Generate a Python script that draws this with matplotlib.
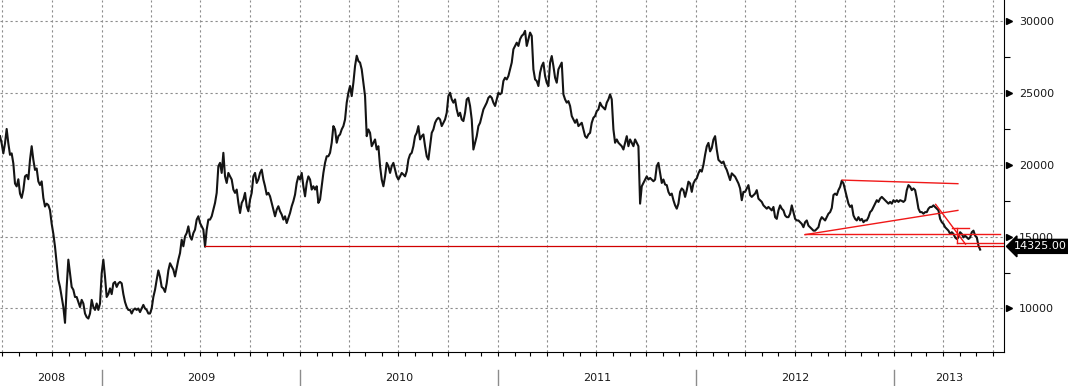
import numpy as np
import pandas as pd
import matplotlib
matplotlib.use("Agg")
import matplotlib.pyplot as plt
import matplotlib.dates as mdates
import matplotlib.transforms as mtrans

# price readings, evenly spaced from late June 2008 to early June 2013
price = [
    22000, 21500, 20800, 21500, 22500, 21500, 20700, 20800, 20100, 18700,
    18500, 19000, 18000, 17700, 18250, 19200, 19300, 19000, 20350, 21300,
    20350, 19650, 19750, 18850, 18600, 18850, 17700, 17100, 17300, 17200,
    16850, 15900, 15200, 14300, 13150, 12000, 11500, 10800, 10100, 9000,
    11500, 13400, 12450, 11500, 11300, 10800, 10800, 10450, 10100, 10600,
    10350, 9650, 9400, 9300, 9650, 10600, 10100, 9900, 10350, 9900,
    10350, 12450, 13400, 12200, 10800, 11000, 11400, 11000, 11750, 11850,
    11500, 11750, 11850, 11750, 11000, 10450, 10100, 9900, 9900, 9650,
    9900, 10000, 9900, 10000, 9750, 10000, 10250, 10000, 9900, 9650,
    9650, 10000, 10800, 11300, 12000, 12650, 12200, 11500, 11400, 11150,
    11750, 12650, 13150,
    # 2009
    12930, 12700, 12230, 12800, 13400, 13860, 14790, 14330, 15020, 15250,
    15720, 15020, 14790, 15250, 15490, 16190, 16420, 15950, 15720, 15490,
    14300, 15490, 16190, 16190, 16420, 16880, 17350, 18050, 19900, 20140,
    19440, 20840, 19200, 18740, 19440, 19200, 18980, 18280, 18050, 18280,
    17350, 16650, 17350, 17580, 18050, 17120, 16770, 17580, 18050, 19200,
    19440, 18740, 18980, 19440, 19670, 18980, 18510, 17930, 18050, 17810,
    17350, 16880, 16420, 16880, 17120, 16770, 16540, 16190, 16420, 15950,
    16300, 16650, 17120, 17470, 17930, 18740, 19200, 18980, 19440, 18510,
    17810, 18740, 19200, 18980, 18280, 18510, 18280, 18510, 17350, 17580,
    18510, 19440, 20140, 20600, 20600, 20840, 21540, 22700, 22470,
    # 2010
    21540, 22000, 22120, 22470, 22700, 23160, 24330, 25020, 25490, 24790,
    25720, 26880, 27600, 27230, 27120, 26650, 25720, 24790, 22000, 22470,
    22230, 21300, 21540, 21770, 21070, 21300, 19910, 18980, 18510, 19200,
    20140, 19910, 19440, 19910, 20140, 19670, 19200, 18980, 19200, 19440,
    19330, 19200, 19560, 20370, 20720, 20840, 21300, 22000, 22230, 22700,
    21770, 22000, 22120, 21300, 20600, 20370, 21300, 22230, 22470, 22930,
    23160, 23280, 23160, 22700, 22930, 23160, 23630, 24790, 25020, 24560,
    24330, 24560, 23860, 23400, 23630, 23160, 23050, 23630, 24560, 24670,
    24100, 23160, 21070, 21540, 22000, 22700, 22930, 23400, 23860, 24100,
    24330, 24670, 24790, 24670, 24330, 24100, 24560, 25020, 24910,
    # 2011
    25020, 25840, 26070, 25950, 26190, 26650, 27120, 28050, 28280, 28510,
    28280, 28750, 28980, 29090, 29330, 28280, 28750, 29210, 28980, 26650,
    25950, 25840, 25490, 26420, 26880, 27120, 26190, 25720, 25490, 27120,
    27580, 26880, 26070, 25720, 26650, 26880, 27120, 24910, 24560, 24330,
    24440, 24100, 23400, 23160, 22930, 23160, 22700, 22810, 22930, 22470,
    22000, 21880, 22120, 22230, 22930, 23280, 23400, 23740, 23860, 24330,
    24100, 23980, 23860, 24330, 24560, 24910, 24560, 22470, 21540, 21770,
    21540, 21420, 21300, 21070, 21540, 22000, 21300, 21770, 21540, 21300,
    21770, 21540, 21300, 17300, 18510, 18740, 18980, 19200, 18980, 19090,
    18980, 18860, 18980, 19910, 20140, 19440, 18740, 18980, 18630,
    # 2012
    18590, 18120, 17890, 18000, 17540, 17180, 16950, 17300, 18120, 18360,
    18240, 17770, 18240, 18830, 18710, 18120, 18710, 18940, 19060, 19410,
    19650, 19530, 20000, 20700, 21290, 21530, 20940, 21170, 21760, 22000,
    21060, 20350, 20230, 20120, 20230, 19880, 19650, 19300, 18940, 19410,
    19300, 19180, 18940, 18710, 18360, 17540, 18120, 18120, 18360, 18590,
    17890, 17770, 17890, 18000, 18240, 17650, 17540, 17420, 17180, 17070,
    16950, 17070, 16950, 16830, 17070, 16360, 16240, 16830, 17180, 16950,
    16830, 16480, 16360, 16360, 16600, 17180, 16710, 16240, 16130, 16130,
    16010, 15890, 15660, 16010, 16130, 15770, 15660, 15540, 15420, 15420,
    15540, 15660, 16130, 16360, 16240, 16130, 16360, 16600, 16710,
    # late 2012 - 2013
    17000, 17900, 18000, 17900, 18240, 18470, 18900, 18710, 18240, 17770,
    17300, 17070, 17180, 16480, 16240, 16130, 16360, 16130, 16240, 16010,
    16130, 16130, 16360, 16710, 16830, 17070, 17300, 17540, 17420, 17650,
    17770, 17650, 17540, 17420, 17300, 17420, 17300, 17540, 17420, 17540,
    17420, 17540, 17490, 17420, 17540, 18240, 18590, 18470, 18240, 18360,
    18240, 17650, 16950, 16710, 16710, 16600, 16710, 16710, 16950, 17070,
    17070, 17180, 17070, 16950, 16830, 16240, 16010, 15890, 15660, 15540,
    15420, 15190, 15310, 15190, 14950, 14840, 14950, 15310, 15190, 14950,
    15070, 14950, 14840, 14950, 15310, 15420, 15070, 14950, 14370, 14100,
]
dates = pd.date_range("2008-06-27", "2013-06-08", periods=len(price))

last_level = 14325.0
support_start = "2009-07-10"

# red trend lines drawn by the analyst: (start date, start value, end date, end value)
red_lines = [
    ("2012-09-27", 18940, "2013-04-28", 18690),
    ("2012-07-20", 15140, "2013-04-28", 16830),
    ("2012-07-20", 15190, "2013-07-15", 15190),
    ("2013-03-18", 17250, "2013-05-12", 14480),
    ("2013-04-17", 15590, "2013-05-18", 15590),
    ("2013-04-27", 15590, "2013-04-27", 14580),
    ("2013-04-27", 14580, "2013-07-22", 14580),
]

xmin, xmax = pd.Timestamp("2008-06-27"), pd.Timestamp("2013-07-22")
years = [2008, 2009, 2010, 2011, 2012, 2013]

fig = plt.figure(figsize=(10.68, 3.86), dpi=100)
ax = fig.add_axes([0.0, 34 / 386, 1004 / 1068, 352 / 386])

grid_kw = dict(color="#8c8c8c", lw=0.8, ls=(0, (2, 2.5)))
ax.plot(dates, price, color="#141414", lw=1.5, zorder=3)
ax.plot([pd.Timestamp(support_start), xmax], [last_level, last_level],
        color="#d00000", lw=0.9, zorder=4)
for d0, v0, d1, v1 in red_lines:
    ax.plot([pd.Timestamp(d0), pd.Timestamp(d1)], [v0, v1], color="#f01818",
            lw=1.0, zorder=4)

ax.set_xlim(xmin, xmax)
ax.set_ylim(6970, 31480)

# grid
for v in range(10000, 30001, 5000):
    ax.axhline(v, zorder=1, **grid_kw)
for q in pd.date_range("2008-07-01", "2013-07-01", freq="QS"):
    ax.axvline(q, zorder=1, **grid_kw)

for s in ["left", "top"]:
    ax.spines[s].set_visible(False)
ax.spines["right"].set_color("black")
ax.spines["bottom"].set_color("black")

# x axis: month ticks, year labels between separators
ax.xaxis.set_major_locator(mdates.MonthLocator())
ax.xaxis.set_major_formatter(plt.NullFormatter())
ax.tick_params(axis="x", which="major", direction="out", length=3, width=0.8)
trans_x = mtrans.blended_transform_factory(ax.transData, ax.transAxes)
for y in years:
    a = max(pd.Timestamp(f"{y}-01-01"), xmin)
    b = min(pd.Timestamp(f"{y + 1}-01-01"), xmax)
    mid = a + (b - a) / 2
    ax.text(mid, -0.075, str(y), transform=trans_x, ha="center", va="center",
            fontsize=8, color="#1a1a1a")
    if y > years[0]:
        ax.plot([pd.Timestamp(f"{y}-01-01")] * 2, [-0.05, -0.1], transform=trans_x,
                color="#8c8c8c", lw=1.0, clip_on=False)

# y axis on the right
ax.yaxis.tick_right()
ax.set_yticks(range(10000, 30001, 5000))
ax.set_yticklabels([str(v) for v in range(10000, 30001, 5000)])
ax.set_yticks(range(12500, 30000, 5000), minor=True)
ax.tick_params(axis="y", which="major", length=0, pad=11, labelsize=8,
               labelcolor="#1a1a1a")
ax.tick_params(axis="y", which="minor", direction="out", length=4, width=0.8)
trans_y = mtrans.blended_transform_factory(ax.transAxes, ax.transData)
ax.plot([1 + 5 / 1004] * 5, list(range(10000, 30001, 5000)), transform=trans_y,
        ls="none", marker=">", ms=4, color="black", clip_on=False)

# last value tag
ax.text(1 + 10 / 1004, last_level, f"{last_level:.2f}", transform=trans_y,
        ha="left", va="center", fontsize=8, color="white",
        bbox=dict(boxstyle="larrow,pad=0.18", fc="black", ec="black"))

fig.savefig("out.png", dpi=100)
